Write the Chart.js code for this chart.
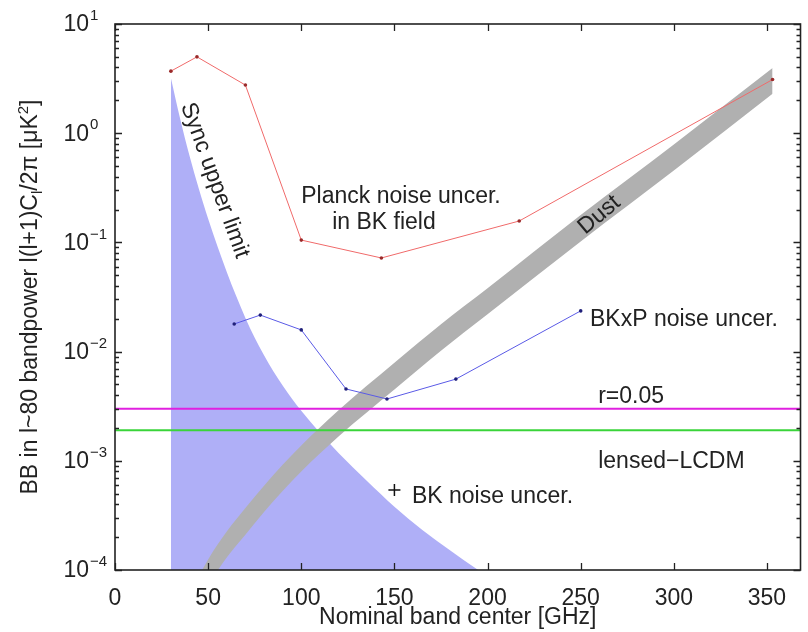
<!DOCTYPE html>
<html>

<head>
    <title>BB bandpower vs frequency</title>
    <script src="https://cdn.jsdelivr.net/npm/chart.js@4.4.1/dist/chart.umd.min.js"></script>
    <style>
        body { margin: 0; background: #fff; }
        #wrap { width: 808px; height: 632px; }
    </style>
</head>

<body>
    <div id="wrap"><canvas id="myChart" width="808" height="632"></canvas></div>

    <script>
        // Values
        var xTicks = [0, 50, 100, 150, 200, 250, 300, 350];
        var yExponents = [-4, -3, -2, -1, 0, 1];

        var planckFreq = [30, 44, 70, 100, 143, 217, 353];
        var planckNoise = [3.7, 5.0, 2.76, 0.105, 0.072, 0.157, 3.1];

        var bkxpFreq = [64, 78, 100, 124, 146, 183, 250];
        var bkxpNoise = [0.0179, 0.0216, 0.0158, 0.00455, 0.00368, 0.0056, 0.0236];

        var bkFreq = [150];
        var bkNoise = [0.00054];

        var syncFreq = [30, 35, 40, 45, 50, 55, 60, 65, 70, 75, 80, 85, 90, 95, 100, 110, 120, 135, 150, 165, 180, 197, 210];
        var syncLimit = [3.2, 1.35, 0.62, 0.31, 0.165, 0.092, 0.0536, 0.0324, 0.0203, 0.0134, 0.00925, 0.0066,
            0.00488, 0.0037, 0.00287, 0.00181, 0.00118, 0.00066, 0.00038, 0.000233, 0.000151, 0.000095, 0.00007];

        var dustFreq = [40, 50, 60, 70, 80, 90, 100, 120, 150, 175, 200, 250, 300, 353];
        var dustHigh = [6.1e-5, 1.25e-4, 2.25e-4, 3.7e-4, 5.9e-4, 9.2e-4, 1.38e-3, 2.9e-3, 7.9e-3, 0.0178, 0.038, 0.178, 0.79, 3.95];
        var dustLow = [3.5e-5, 7.2e-5, 1.3e-4, 2.1e-4, 3.4e-4, 5.3e-4, 8.0e-4, 1.67e-3, 4.5e-3, 0.0102, 0.022, 0.102, 0.455, 2.3];

        var lineRange = [0, 368];
        var rLevel = 0.003;     // r=0.05
        var lensedLevel = 0.0019; // lensed-LCDM

        function pts(xs, ys) {
            return xs.map(function (v, i) { return { x: v, y: ys[i] }; });
        }

        // text annotations, anchored in data coordinates
        var notes = [
            { text: 'Sync upper limit', x: 53.5, y: 0.37, rot: 70, align: 'center' },
            { text: 'Dust', x: 260, y: 0.178, rot: -40, align: 'center' },
            { text: 'Planck noise uncer.', x: 100, y: 0.26, rot: 0, align: 'left' },
            { text: 'in BK field', x: 116.6, y: 0.151, rot: 0, align: 'left' },
            { text: 'BKxP noise uncer.', x: 255, y: 0.0195, rot: 0, align: 'left' },
            { text: 'r=0.05', x: 259.4, y: 0.00384, rot: 0, align: 'left' },
            { text: 'lensed\u2212LCDM', x: 259.4, y: 0.000975, rot: 0, align: 'left' },
            { text: 'BK noise uncer.', x: 159.4, y: 0.000466, rot: 0, align: 'left' }
        ];

        var FONT = "'Liberation Sans', Arial, sans-serif";
        var INK = '#222';

        // frame, inward ticks, log labels with superscripts, y title and notes
        var decorations = {
            id: 'decorations',
            afterDatasetsDraw: function (chart) {
                var ctx = chart.ctx, a = chart.chartArea;
                var xs = chart.scales.x, ys = chart.scales.y;
                ctx.save();

                ctx.strokeStyle = INK;
                ctx.lineWidth = 1.3;
                ctx.beginPath();
                xTicks.forEach(function (v) {
                    var px = Math.round(xs.getPixelForValue(v)) + 0.5;
                    ctx.moveTo(px, a.bottom); ctx.lineTo(px, a.bottom - 7);
                    ctx.moveTo(px, a.top); ctx.lineTo(px, a.top + 7);
                });
                yExponents.forEach(function (e) {
                    var py = Math.round(ys.getPixelForValue(Math.pow(10, e))) + 0.5;
                    ctx.moveTo(a.left, py); ctx.lineTo(a.left + 7, py);
                    ctx.moveTo(a.right, py); ctx.lineTo(a.right - 7, py);
                    if (e < 1) {
                        for (var m = 2; m <= 9; m++) {
                            var pm = Math.round(ys.getPixelForValue(m * Math.pow(10, e))) + 0.5;
                            ctx.moveTo(a.left, pm); ctx.lineTo(a.left + 4, pm);
                            ctx.moveTo(a.right, pm); ctx.lineTo(a.right - 4, pm);
                        }
                    }
                });
                ctx.stroke();
                ctx.lineWidth = 1.6;
                ctx.strokeRect(a.left, a.top, a.right - a.left, a.bottom - a.top);

                // y tick labels 10^e
                ctx.fillStyle = INK;
                yExponents.forEach(function (e) {
                    var py = ys.getPixelForValue(Math.pow(10, e));
                    ctx.font = '23px ' + FONT;
                    ctx.textAlign = 'right';
                    ctx.textBaseline = 'middle';
                    ctx.fillText('10', 89, py + 1);
                    ctx.font = '15px ' + FONT;
                    ctx.textAlign = 'left';
                    ctx.fillText((e < 0 ? '\u2212' : '') + Math.abs(e), 90, py - 8);
                });

                // y axis title with sub/superscript
                var parts = [
                    ['BB in l~80 bandpower l(l+1)C', 0],
                    ['l', 1],
                    ['/2\u03c0 [\u03bcK', 0],
                    ['2', -1],
                    [']', 0]
                ];
                function partFont(k) { return (k === 0 ? '23px ' : '15px ') + FONT; }
                var total = 0;
                parts.forEach(function (p) { ctx.font = partFont(p[1]); total += ctx.measureText(p[0]).width; });
                ctx.save();
                ctx.translate(31, (a.top + a.bottom) / 2);
                ctx.rotate(-Math.PI / 2);
                ctx.textAlign = 'left';
                ctx.textBaseline = 'middle';
                var cx = -total / 2;
                parts.forEach(function (p) {
                    ctx.font = partFont(p[1]);
                    ctx.fillText(p[0], cx, p[1] * 7);
                    cx += ctx.measureText(p[0]).width;
                });
                ctx.restore();

                // in-plot notes
                ctx.font = '23px ' + FONT;
                ctx.textBaseline = 'middle';
                notes.forEach(function (n) {
                    ctx.save();
                    ctx.translate(xs.getPixelForValue(n.x), ys.getPixelForValue(n.y));
                    ctx.rotate(n.rot * Math.PI / 180);
                    ctx.textAlign = n.align;
                    ctx.fillText(n.text, 0, 0);
                    ctx.restore();
                });

                ctx.restore();
            }
        };

        var ctx = document.getElementById('myChart');

        new Chart(ctx, {
            type: 'scatter',
            data: {
                datasets: [
                    {   // BK noise
                        data: pts(bkFreq, bkNoise),
                        pointStyle: 'cross', pointRadius: 6, borderWidth: 1.5,
                        borderColor: '#111', backgroundColor: '#111'
                    },
                    {   // BKxP noise
                        data: pts(bkxpFreq, bkxpNoise), showLine: true,
                        borderColor: '#5a5ae6', borderWidth: 1,
                        pointRadius: 1.8, pointBackgroundColor: '#20207a', pointBorderWidth: 0
                    },
                    {   // Planck noise
                        data: pts(planckFreq, planckNoise), showLine: true,
                        borderColor: '#f06a6a', borderWidth: 1,
                        pointRadius: 1.8, pointBackgroundColor: '#9a2a2a', pointBorderWidth: 0
                    },
                    {   // r=0.05
                        data: pts(lineRange, [rLevel, rLevel]), showLine: true,
                        borderColor: '#e020e0', borderWidth: 2, pointRadius: 0
                    },
                    {   // lensed LCDM
                        data: pts(lineRange, [lensedLevel, lensedLevel]), showLine: true,
                        borderColor: '#3ad43a', borderWidth: 2, pointRadius: 0
                    },
                    {   // dust band upper edge
                        data: pts(dustFreq, dustHigh), showLine: true,
                        borderWidth: 0, pointRadius: 0, cubicInterpolationMode: 'monotone',
                        fill: '+1', backgroundColor: '#b0b0b0'
                    },
                    {   // dust band lower edge
                        data: pts(dustFreq, dustLow), showLine: true,
                        borderWidth: 0, pointRadius: 0, cubicInterpolationMode: 'monotone'
                    },
                    {   // sync upper limit
                        data: pts(syncFreq, syncLimit), showLine: true,
                        borderWidth: 0, pointRadius: 0, cubicInterpolationMode: 'monotone',
                        fill: 'start', backgroundColor: '#afaff7'
                    }
                ]
            },
            options: {
                responsive: false,
                animation: false,
                events: [],
                layout: { padding: { left: 115, top: 24, right: 5, bottom: 0 } },
                plugins: {
                    legend: { display: false },
                    tooltip: { enabled: false }
                },
                scales: {
                    x: {
                        type: 'linear',
                        min: 0,
                        max: 368,
                        afterBuildTicks: function (scale) {
                            scale.ticks = xTicks.map(function (v) { return { value: v }; });
                        },
                        afterFit: function (scale) { scale.height = 62; },
                        grid: { display: false },
                        border: { display: false },
                        ticks: {
                            font: { size: 23, family: FONT },
                            color: INK,
                            padding: 7,
                            maxRotation: 0,
                            autoSkip: false
                        },
                        title: {
                            display: true,
                            text: 'Nominal band center [GHz]',
                            font: { size: 23, family: FONT },
                            color: INK,
                            padding: { top: 0, bottom: 1 }
                        }
                    },
                    y: {
                        type: 'logarithmic',
                        min: 1e-4,
                        max: 10,
                        display: false
                    }
                }
            },
            plugins: [decorations]
        });
    </script>
</body>

</html>
